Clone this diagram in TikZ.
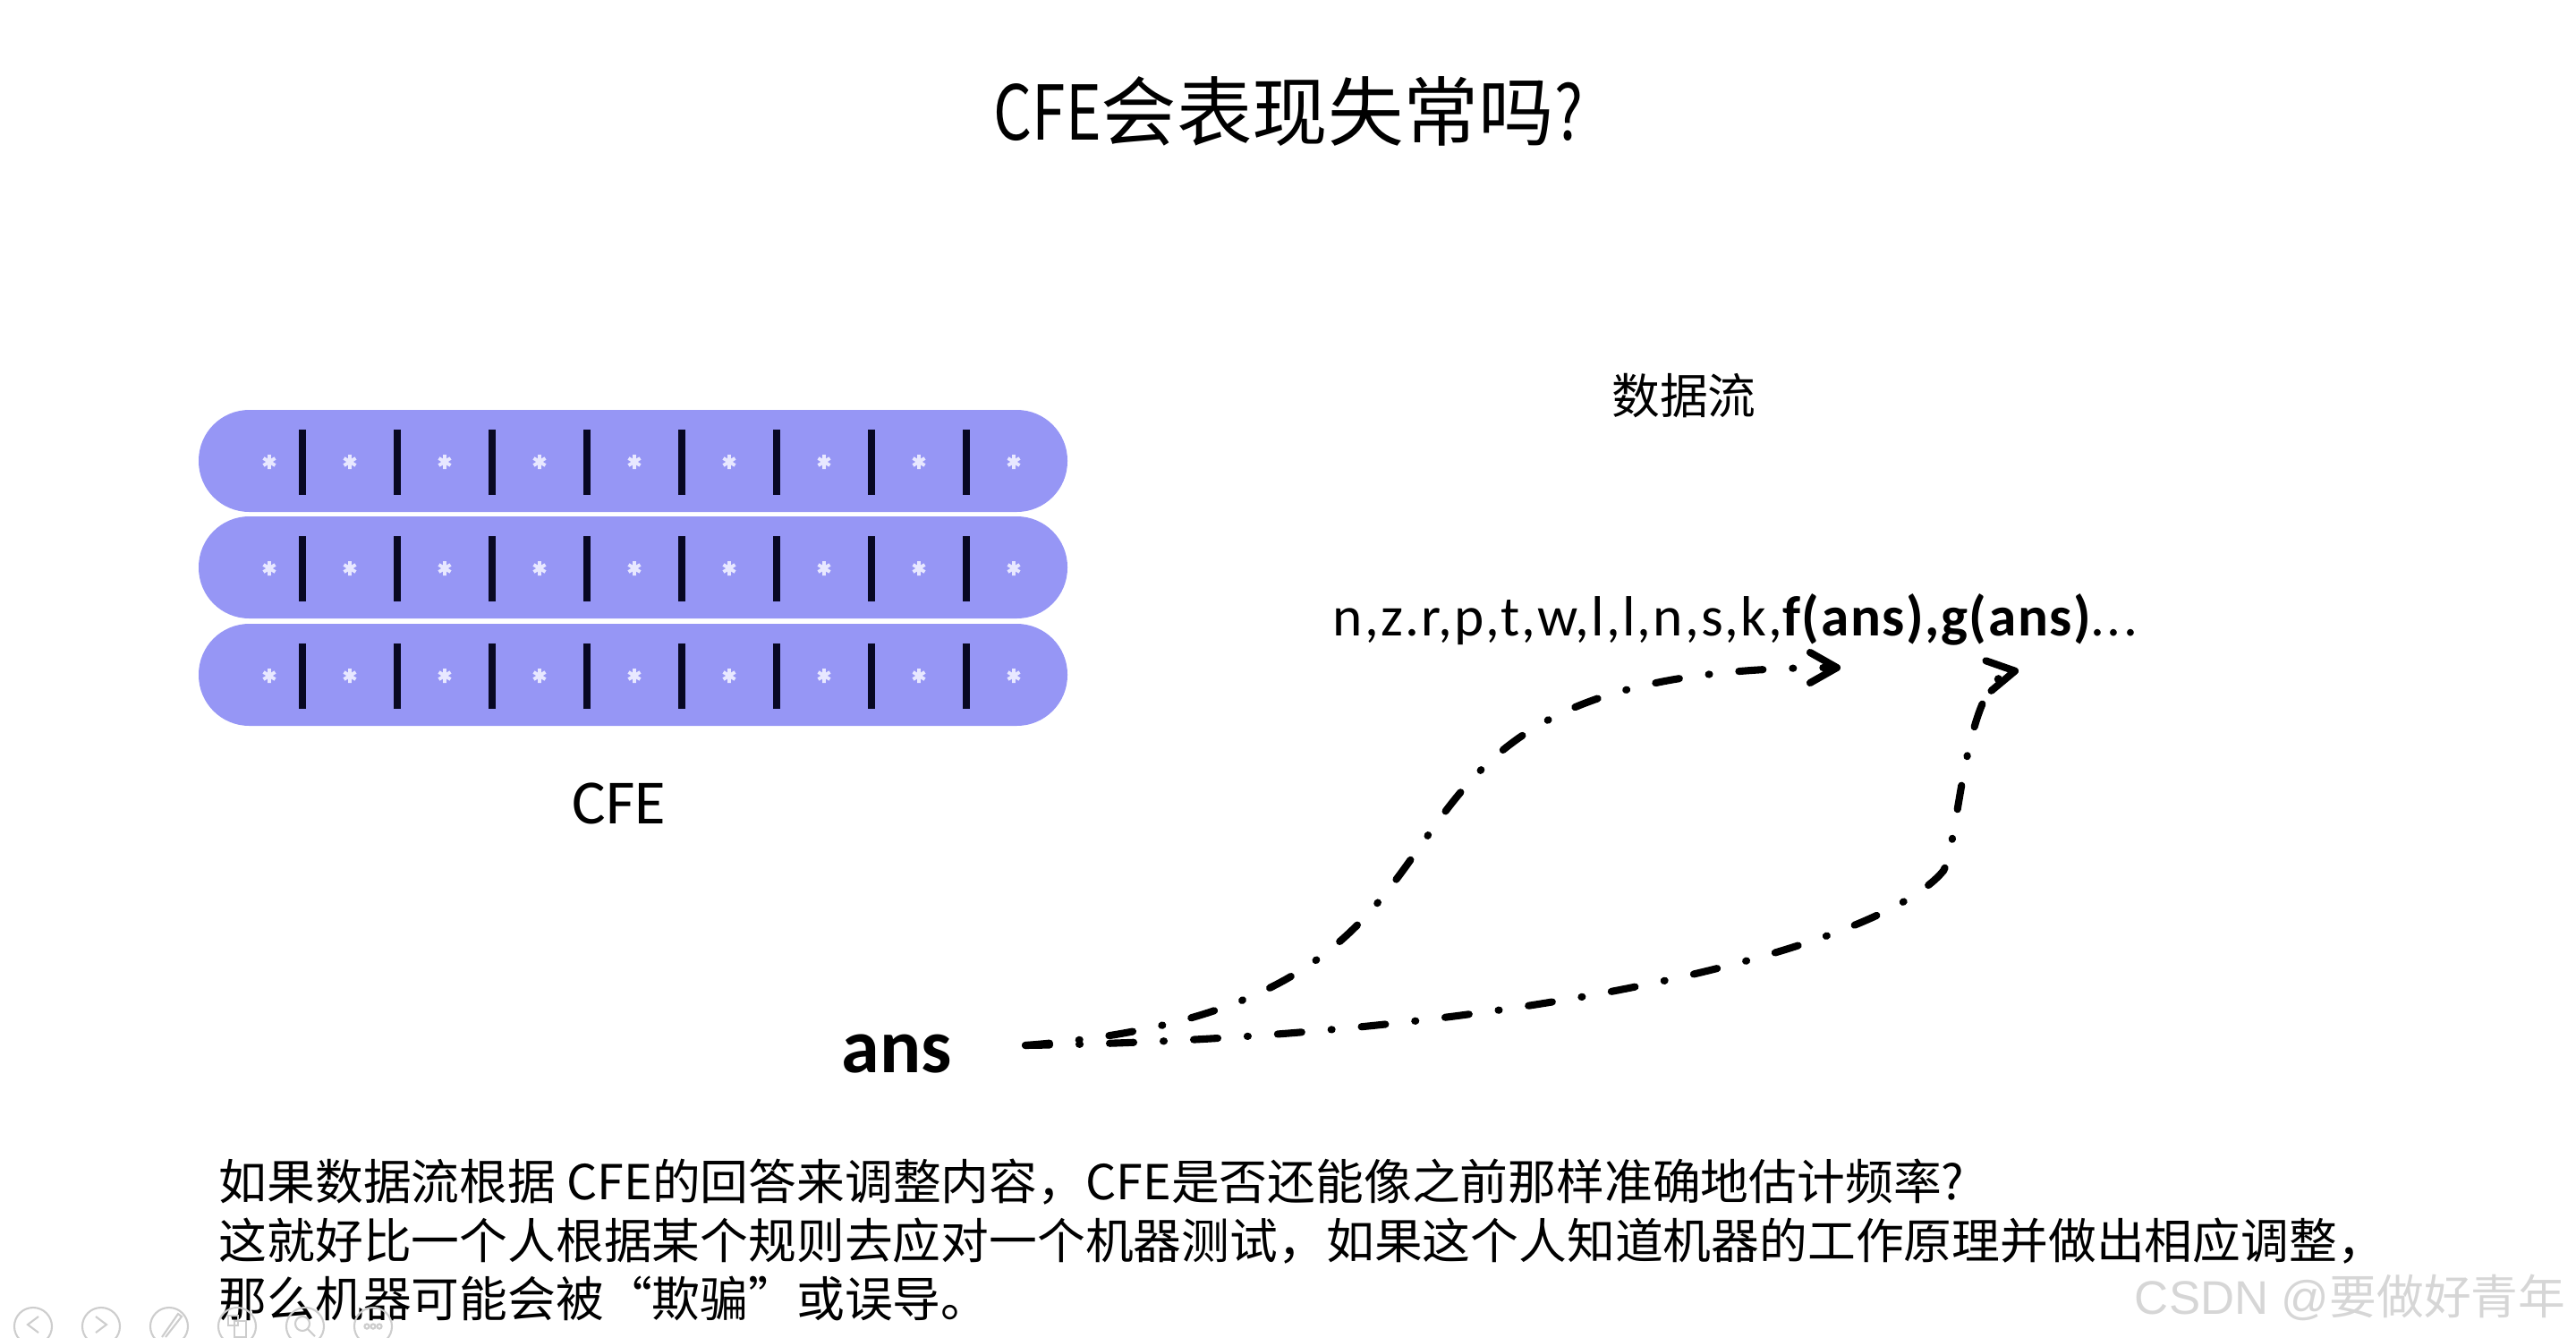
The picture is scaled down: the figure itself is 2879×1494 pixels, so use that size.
\documentclass[tikz,border=0pt]{standalone}
\usepackage{fontspec}
\setmainfont{Carlito}
\newfontfamily\cjk{Noto Sans CJK SC}
\newfontfamily\cjknarrow[FakeStretch=0.8]{Noto Sans CJK SC}
\newfontfamily\wmfont{Liberation Sans}
\usetikzlibrary{arrows.meta, positioning, calc}
\definecolor{cfeblue}{RGB}{150,150,245}
\definecolor{cfetick}{RGB}{8,8,35}
\definecolor{cfestar}{RGB}{232,232,255}
\definecolor{markgray}{RGB}{214,214,214}
\definecolor{uigray}{RGB}{205,205,205}

\begin{document}
\begin{tikzpicture}[
    x=0.01cm, y=-0.01cm,
    cfebar/.style={fill=cfeblue, rounded corners=0.565cm},
    tickline/.style={line width=2.4pt, cfetick},
    starline/.style={line width=1.1pt, cfestar},
    titlelabel/.style={anchor=base, inner sep=0pt, font=\fontsize{24}{29}\selectfont\cjk},
    cnlabel/.style={anchor=base west, inner sep=0pt, font=\fontsize{15.3}{18}\selectfont\cjk},
    flow/.style={line width=2.3pt, line cap=round,
        dash pattern=on 0.27cm off 0.33cm on 0.01cm off 0.33cm,
        -{Straight Barb[length=3mm, width=3.4mm, round]}},
    uibutton/.style={draw=uigray, line width=0.6pt}
]
    \useasboundingbox (0,0) rectangle (2879,1494);

    % --- Title ---
    \node[titlelabel] (title) at (1440,157) {{\cjknarrow CFE}会表现失常吗{\cjknarrow ?}};

    % --- CFE block ---
    \foreach \top in {458,577,697} {
        \fill[cfebar] (222,\top) rectangle (1193,\top+114);
        \foreach \i in {0,...,7}
            \draw[tickline] (338+106*\i,\top+22) -- (338+106*\i,\top+95);
        \foreach \sx in {301,391,497,603,709,815,921,1027,1133}
            \draw[starline] (\sx,\top+58) +(0,-8) -- +(0,8)
                +(-6.5,-4) -- +(6.5,4) +(-6.5,4) -- +(6.5,-4);
    }
    \node[anchor=base, inner sep=0pt, font=\fontsize{20}{24}\selectfont] (cfe) at (692,920) {CFE};

    % --- Data stream ---
    \node[anchor=base, inner sep=0pt, font=\fontsize{15.3}{18}\selectfont\cjk] (flowtitle) at (1882,462) {数据流};
    \node[anchor=base west, inner sep=0pt, font=\fontsize{18}{22}\selectfont] (stream) at (1489,710)
        {{\addfontfeature{LetterSpace=3.4}n,z.r,p,t,w,l,l,n,s,k,}%
         {\bfseries\addfontfeature{LetterSpace=2.4}f(ans),g(ans)}%
         {\addfontfeature{LetterSpace=3.4}...}};

    % --- ans and its two routes ---
    \node[anchor=base, inner sep=0pt, font=\fontsize{24.5}{29}\selectfont\bfseries] (ans) at (1002,1198) {ans};
    \coordinate (ansout) at (1146,1168);
    \coordinate (fin) at (2057,746);
    \coordinate (gbend) at (2172,973);
    \coordinate (gin) at (2256,749);

    \draw[flow] (ansout) .. controls (1760,1120) and (1420,746) .. (fin);
    \draw[flow] (ansout) .. controls (1700,1160) and (2100,1060) .. (gbend)
        .. controls (2190,940) and (2195,760) .. (gin);

    % --- Explanation ---
    \node[cnlabel] (line1) at (244,1340) {如果数据流根据 CFE的回答来调整内容，CFE是否还能像之前那样准确地估计频率?};
    \node[cnlabel] (line2) at (244,1406) {这就好比一个人根据某个规则去应对一个机器测试，如果这个人知道机器的工作原理并做出相应调整，};
    \node[cnlabel] (line3) at (244,1471) {那么机器可能会被“欺骗”或误导。};

    % --- Watermark ---
    \node[anchor=base east, inner sep=0pt, markgray, font=\fontsize{15}{18}\selectfont] (mark) at (2868,1468)
        {{\wmfont CSDN @}{\cjk 要做好青年}};

    % --- Slide toolbar ---
    \foreach \bx/\name in {37/prev,113/next,189/pen,265/view,341/zoom,417/more}
        \draw[uibutton] (\bx,1482) circle (21);
    \draw[uibutton] (43,1471) -- (31,1480) -- (43,1489);
    \draw[uibutton] (107,1471) -- (119,1480) -- (107,1489);
    \draw[uibutton] (181,1494) -- (199,1468) -- (203,1471) -- (185,1494);
    \draw[uibutton] (255,1470) rectangle (266,1481) (262,1476) rectangle (275,1494);
    \draw[uibutton] (338,1479) circle (8) (344,1485) -- (352,1493);
    \foreach \dx in {-7,0,7}
        \draw[uibutton] (417+\dx,1482) circle (2.6);
\end{tikzpicture}
\end{document}
